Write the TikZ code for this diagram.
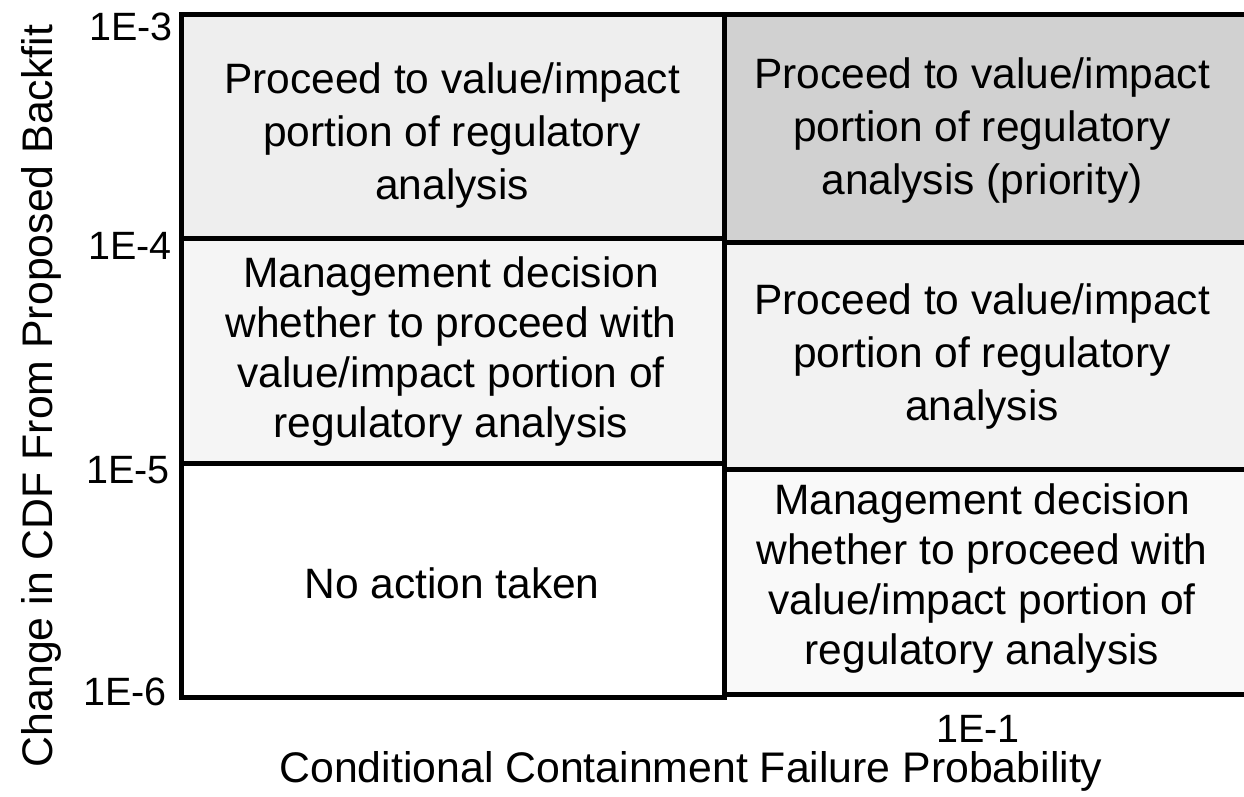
\documentclass[tikz,border=0pt]{standalone}
\usepackage{fontspec}
\setmainfont{Liberation Sans}
\begin{document}
\begin{tikzpicture}[x=1pt,y=-1pt,
  cell/.style={align=center,font=\fontsize{42.5}{53}\selectfont,inner sep=0pt},
  cellfour/.style={cell,font=\fontsize{42.5}{50}\selectfont},
  tick/.style={anchor=east,font=\fontsize{39.5}{48}\selectfont,inner sep=0pt},
  axtitle/.style={font=\fontsize{42.8}{50}\selectfont,inner sep=0pt,anchor=base},
  grid/.style={line width=5pt}]
\useasboundingbox (0,0) rectangle (1244,797);
% fills
\fill[gray!13] (181,15) rectangle (724,238);
\fill[gray!36] (724,15) rectangle (1244,242);
\fill[gray!8] (181,238) rectangle (724,463);
\fill[gray!10] (724,242) rectangle (1244,469);
\fill[gray!5] (724,469) rectangle (1244,694);
% grid
\draw[grid] (181,15) -- (1244,15);
\draw[grid] (181,12.5) -- (181,699.5);
\draw[grid] (724.5,12.5) -- (724.5,699.5);
\draw[grid] (181,238) -- (724.5,238);
\draw[grid] (181,463) -- (724.5,463);
\draw[grid] (181,697) -- (724.5,697);
\draw[grid] (724.5,242) -- (1244,242);
\draw[grid] (724.5,469) -- (1244,469);
\draw[grid] (724.5,694) -- (1244,694);
% cell texts
\node[cell] (tl) at (452,136) {Proceed to value/impact\\portion of regulatory\\analysis};
\node[cell] (tr) at (982,131) {Proceed to value/impact\\portion of regulatory\\analysis (priority)};
\node[cellfour] (ml) at (451,352) {Management decision\\whether to proceed with\\value/impact portion of\\regulatory analysis};
\node[cell] (mr) at (982,357) {Proceed to value/impact\\portion of regulatory\\analysis};
\node[cell] (bl) at (452,583) {No action taken};
\node[cellfour] (br) at (982,579) {Management decision\\whether to proceed with\\value/impact portion of\\regulatory analysis};
% ticks
\node[tick] (t3) at (173,27) {1E-3};
\node[tick] (t4) at (172,246) {1E-4};
\node[tick] (t5) at (170,470) {1E-5};
\node[tick] (t6) at (167,692) {1E-6};
\node[font=\fontsize{39.5}{48}\selectfont,inner sep=0pt] (t1) at (978,729) {1E-1};
% axis titles
\node[axtitle] (xt) at (691,782) {Conditional Containment Failure Probability};
\node[axtitle,rotate=90] (yt) at (52,396) {Change in CDF From Proposed Backfit};
\end{tikzpicture}
\end{document}
